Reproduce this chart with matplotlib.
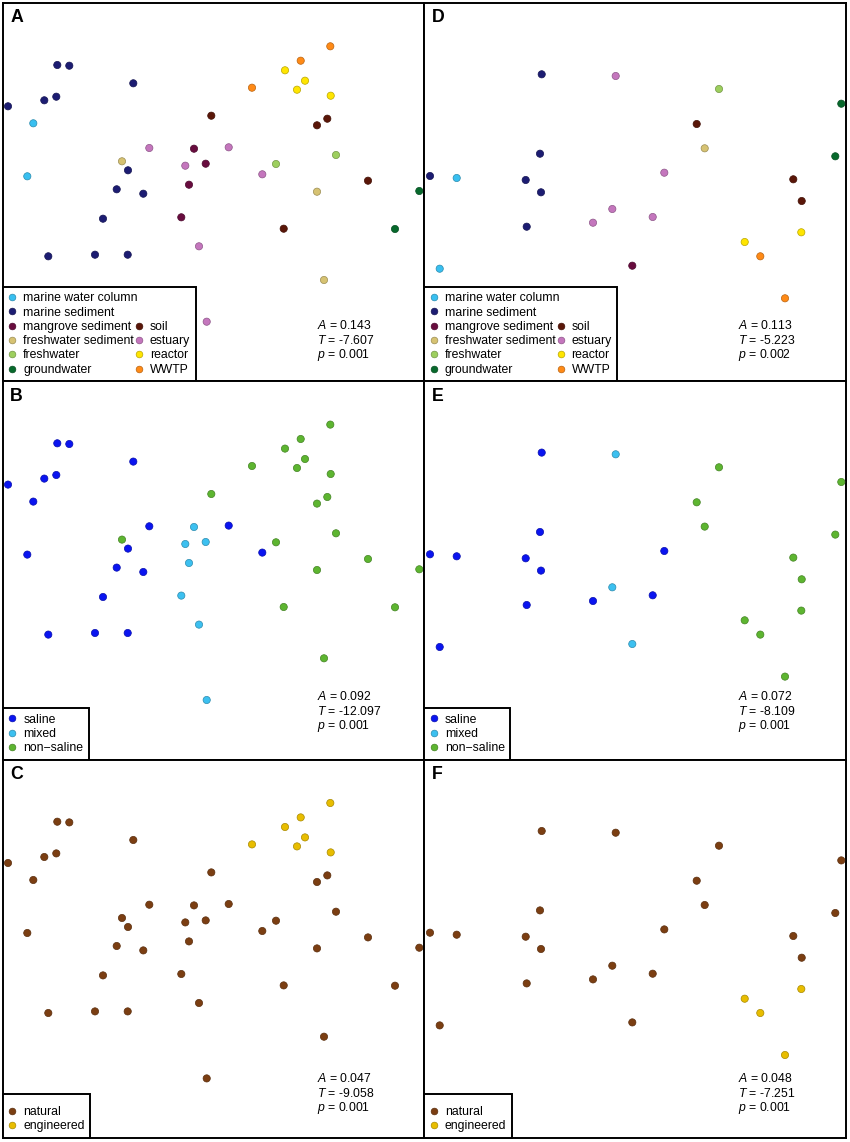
import matplotlib
matplotlib.use("Agg")
import matplotlib.pyplot as plt
import matplotlib.colors as mcolors
from matplotlib.lines import Line2D

plt.rcParams['font.family'] = ['Liberation Sans', 'DejaVu Sans']
plt.rcParams['mathtext.fontset'] = 'custom'
plt.rcParams['mathtext.rm'] = 'Liberation Sans'
plt.rcParams['mathtext.it'] = 'Liberation Sans:italic'

# ---------------- categories ----------------
source_categories = ['marine water column', 'marine sediment', 'mangrove sediment',
                     'freshwater sediment', 'freshwater', 'groundwater',
                     'soil', 'estuary', 'reactor', 'WWTP']
source_colors = ['#38bff0', '#1c1c72', '#680c3e', '#d6c272', '#9dcf5e', '#07692c',
                 '#5a1608', '#c476bd', '#ffe500', '#ff8a16']
salinity_categories = ['saline', 'mixed', 'non\u2212saline']
salinity_colors = ['#0a14f0', '#3cc0f0', '#5db530']
origin_categories = ['natural', 'engineered']
origin_colors = ['#7b3e12', '#e8bd00']
engineered_sources = ['reactor', 'WWTP']

# ---------------- ordination 1 (panels A-C) ----------------
left_x = [57.3, 69.3, 133.3, 44.3, 56.3, 8.0, 128.0, 116.7, 143.3, 103.0, 48.3, 95.0, 127.7,
          33.3, 27.3,
          122.0, 317.0, 324.0,
          194.0, 205.7, 189.0, 181.3,
          149.3, 228.7, 185.3, 262.3, 199.0, 206.7,
          211.3, 317.0, 327.3, 368.0, 283.7,
          276.0, 336.0,
          419.3, 395.0,
          285.0, 305.0, 297.0, 330.7,
          330.3, 300.7, 252.0]
left_y = [65.0, 65.7, 83.3, 100.3, 96.7, 106.3, 170.3, 189.3, 193.7, 218.7, 256.3, 254.7, 254.7,
          123.3, 176.3,
          161.3, 191.7, 280.0,
          148.7, 163.7, 184.7, 217.3,
          148.0, 147.3, 165.7, 174.3, 246.3, 321.7,
          115.7, 125.3, 118.7, 180.7, 228.7,
          164.0, 155.0,
          191.0, 229.0,
          70.3, 80.7, 89.7, 95.7,
          46.3, 60.7, 87.7]
left_source = (['marine sediment'] * 13 + ['marine water column'] * 2 +
               ['freshwater sediment'] * 3 + ['mangrove sediment'] * 4 +
               ['estuary'] * 6 + ['soil'] * 5 + ['freshwater'] * 2 +
               ['groundwater'] * 2 + ['reactor'] * 4 + ['WWTP'] * 3)
left_salinity = (['saline'] * 15 + ['non\u2212saline'] * 3 + ['mixed'] * 4 +
                 ['saline', 'saline', 'mixed', 'saline', 'mixed', 'mixed'] +
                 ['non\u2212saline'] * 16)

# ---------------- ordination 2 (panels D-F) ----------------
right_x = [116.7, 115.0, 5.0, 100.7, 116.0, 101.7,
           31.7, 14.7,
           190.7, 239.3, 187.3, 168.0, 227.7,
           294.0,
           271.7, 368.3, 376.7,
           279.7,
           416.3, 410.3,
           207.3,
           319.7, 376.3,
           335.3, 360.0]
right_y = [74.3, 153.7, 176.0, 180.0, 192.3, 226.7,
           178.0, 268.7,
           76.0, 172.7, 209.0, 222.7, 217.0,
           89.0,
           124.0, 179.3, 201.0,
           148.3,
           103.7, 156.3,
           265.7,
           242.0, 232.3,
           256.3, 298.3]
right_source = (['marine sediment'] * 6 + ['marine water column'] * 2 + ['estuary'] * 5 +
                ['freshwater'] + ['soil'] * 3 + ['freshwater sediment'] +
                ['groundwater'] * 2 + ['mangrove sediment'] + ['reactor'] * 2 + ['WWTP'] * 2)
right_salinity = (['saline'] * 8 + ['mixed', 'saline', 'mixed', 'saline', 'saline'] +
                  ['non\u2212saline'] * 7 + ['mixed'] + ['non\u2212saline'] * 4)

# ---------------- ANOSIM statistics ----------------
panel_stats = {
    'A': ('0.143', '-7.607', '0.001'),
    'B': ('0.092', '-12.097', '0.001'),
    'C': ('0.047', '-9.058', '0.001'),
    'D': ('0.113', '-5.223', '0.002'),
    'E': ('0.072', '-8.109', '0.001'),
    'F': ('0.048', '-7.251', '0.001'),
}

# ---------------- layout ----------------
W, H = 850, 1142
fig = plt.figure(figsize=(W / 100, H / 100), dpi=100)
col_edges = [2.5, 424.0, 845.5]
row_edges = [3.0, 381.3, 759.7, 1138.0]
x_origin = [2.5, -1.0]
stats_x = [317.0, 738.0]
stats_y0 = [325.7, 696.7, 1078.7]
FS = 8.8


def darker(c, f=0.72):
    r, g, b = mcolors.to_rgb(c)
    return (r * f, g * f, b * f)


def legend_handles(colors):
    return [Line2D([], [], linestyle='none', marker='o', markersize=4.8,
                   markerfacecolor=c, markeredgecolor=darker(c), markeredgewidth=0.5)
            for c in colors]


def add_legend(ax, handles, labels, ncol=1, title=None):
    kw = {}
    if title is not None:
        kw = dict(title=title, title_fontsize=2.5)
    leg = ax.legend(handles, labels, loc='lower left', bbox_to_anchor=(0, 0),
                    borderaxespad=0, ncol=ncol, fontsize=FS, frameon=True,
                    fancybox=False, framealpha=1, edgecolor='black',
                    handlelength=0.7, handletextpad=0.55, borderpad=0.45,
                    labelspacing=0.19, columnspacing=-0.25, **kw)
    leg.get_frame().set_linewidth(1.4)
    leg.set_zorder(10)


letters = [['A', 'B', 'C'], ['D', 'E', 'F']]
ordinations = [(left_x, left_y, left_source, left_salinity),
               (right_x, right_y, right_source, right_salinity)]

for col in range(2):
    xs, ys, src, sal = ordinations[col]
    for row in range(3):
        x0, x1 = col_edges[col], col_edges[col + 1]
        y0, y1 = row_edges[row], row_edges[row + 1]
        ax = fig.add_axes([x0 / W, 1 - y1 / H, (x1 - x0) / W, (y1 - y0) / H])
        ax.set_xlim(x_origin[col], x_origin[col] + (x1 - x0))
        ax.set_ylim(3.0 + (y1 - y0), 3.0)
        ax.set_xticks([])
        ax.set_yticks([])
        for s in ax.spines.values():
            s.set_linewidth(1.4)
            s.set_color('black')

        if row == 0:
            cols = [source_colors[source_categories.index(s)] for s in src]
        elif row == 1:
            cols = [salinity_colors[salinity_categories.index(s)] for s in sal]
        else:
            cols = [origin_colors[1] if s in engineered_sources else origin_colors[0] for s in src]
        ax.scatter(xs, ys, s=27, c=cols, edgecolors=[darker(c) for c in cols],
                   linewidths=0.5, zorder=3)

        # legends
        if row == 0:
            hs = legend_handles(source_colors)
            blank = Line2D([], [], linestyle='none', marker='')
            handles = hs[:6] + [blank, blank] + hs[6:]
            labels = source_categories[:6] + ['', ''] + source_categories[6:]
            add_legend(ax, handles, labels, ncol=2)
        elif row == 1:
            add_legend(ax, legend_handles(salinity_colors), salinity_categories)
        else:
            add_legend(ax, legend_handles(origin_colors), origin_categories, title=' ')

        # panel letter
        letter = letters[col][row]
        fig.text((x0 + 7.6) / W, 1 - (y0 + 15.0) / H, letter, fontsize=12.8,
                 fontweight='bold', ha='left', va='center')

        # statistics
        a, t, p = panel_stats[letter]
        lines = [r'$A$ = ' + a, r'$T$ = ' + t, r'$p$ = ' + p]
        for i, txt in enumerate(lines):
            fig.text(stats_x[col] / W, 1 - (stats_y0[row] + 14.5 * i) / H, txt,
                     fontsize=FS, ha='left', va='center')

fig.savefig('out.png', dpi=100)
